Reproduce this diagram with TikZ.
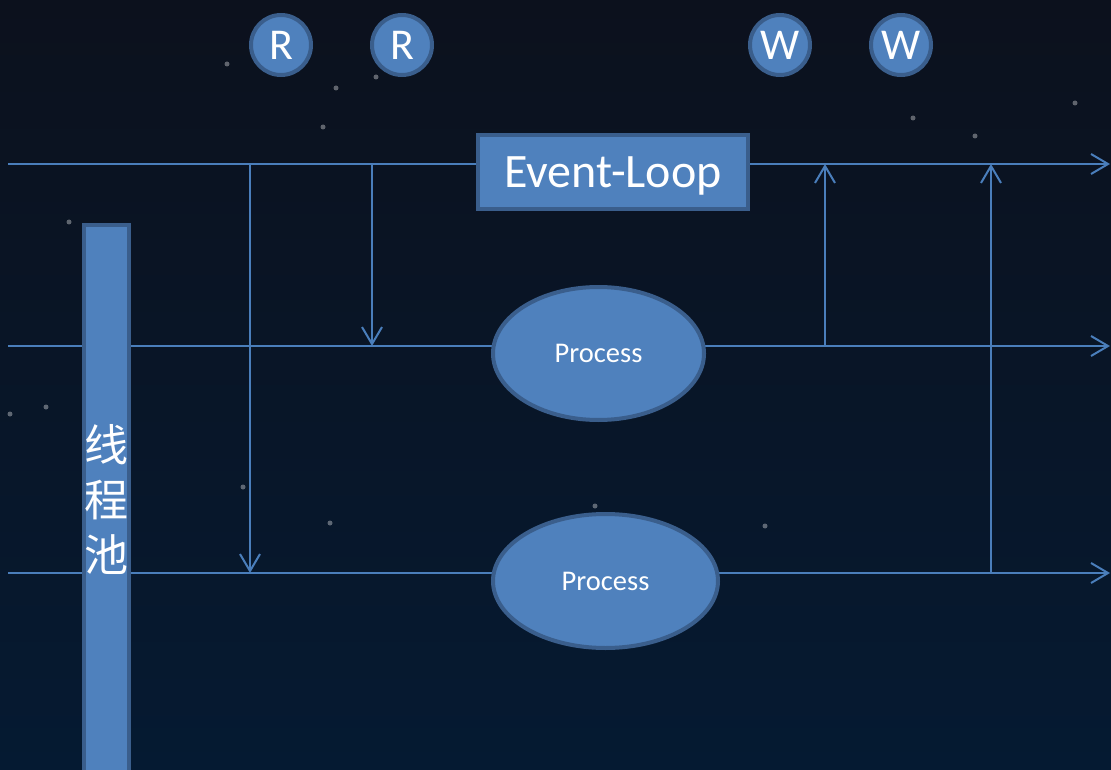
\documentclass[tikz,border=0pt]{standalone}
\usepackage{fontspec}
\setmainfont{Carlito}
\newfontfamily\cjk{Noto Sans CJK SC}
\usetikzlibrary{shapes.geometric, arrows.meta}
\definecolor{bgtop}{RGB}{12,17,29}
\definecolor{bgbot}{RGB}{5,26,50}
\definecolor{boxfill}{RGB}{79,129,189}
\definecolor{boxedge}{RGB}{58,94,140}
\definecolor{linec}{RGB}{74,126,187}

\begin{document}
\begin{tikzpicture}[x=1pt, y=-1pt,
    flow/.style={draw=linec, line width=2pt, -{Straight Barb[length=17pt, width=20pt]}},
    rwnode/.style={circle, fill=boxfill, draw=boxedge, line width=4pt, minimum size=60pt, inner sep=0pt, text depth=0pt, text=white, font=\fontsize{44}{44}\selectfont},
    loopbox/.style={rectangle, fill=boxfill, draw=boxedge, line width=4pt, minimum width=270pt, minimum height=74pt, inner sep=0pt, text depth=0pt, text=white, font=\fontsize{48}{48}\selectfont},
    procnode/.style={ellipse, fill=boxfill, draw=boxedge, line width=4pt, inner sep=0pt, text=white, font=\fontsize{28.5}{28.5}\selectfont},
    poolbar/.style={rectangle, fill=boxfill, draw=boxedge, line width=4pt, minimum width=45pt, inner sep=0pt}]

    % Background and stars
    \clip (0,0) rectangle (1111,770);
    \shade[top color=bgtop, bottom color=bgbot] (0,0) rectangle (1111,770);
    \foreach \x/\y in {227/64, 336/88, 376/77, 323/127, 913/118, 975/136, 1075/103, 10/414, 46/407, 243/487, 330/523, 595/506, 765/526, 69/222}
        \fill[white, opacity=0.35] (\x,\y) circle (2.5pt);

    % Define coordinates for the line ends and junctions
    \coordinate (s1) at (8,164);   \coordinate (e1) at (1110,164);
    \coordinate (s2) at (8,346);   \coordinate (e2) at (1110,346);
    \coordinate (s3) at (8,573);   \coordinate (e3) at (1110,573);
    \coordinate (r1top) at (250,164); \coordinate (r1bot) at (250,573);
    \coordinate (r2top) at (372,164); \coordinate (r2bot) at (372,346);
    \coordinate (w1bot) at (825,346); \coordinate (w1top) at (825,164);
    \coordinate (w2bot) at (991,573); \coordinate (w2top) at (991,164);

    % Horizontal flows
    \draw[flow] (s1) -- (e1);
    \draw[flow] (s2) -- (e2);
    \draw[flow] (s3) -- (e3);

    % Read and write connectors
    \draw[flow] (r1top) -- (r1bot);
    \draw[flow] (r2top) -- (r2bot);
    \draw[flow] (w1bot) -- (w1top);
    \draw[flow] (w2bot) -- (w2top);

    % Nodes
    \node[loopbox] (loop) at (613,172) {Event-Loop};
    \node[procnode, minimum width=211pt, minimum height=133pt] (proc1) at (598.5,353.5) {Process};
    \node[procnode, minimum width=225pt, minimum height=134pt] (proc2) at (605.5,581) {Process};
    \node[poolbar, minimum height=570pt] (pool) at (106.5,510) {};
    \node[text=white, align=center, font=\cjk\fontsize{44}{55}\selectfont] (poolname) at (106.5,499) {线\\程\\池};

    % Read and write events
    \node[rwnode] (read1) at (281,45) {R};
    \node[rwnode] (read2) at (402,45) {R};
    \node[rwnode] (write1) at (780,45) {W};
    \node[rwnode] (write2) at (901,45) {W};

\end{tikzpicture}
\end{document}
